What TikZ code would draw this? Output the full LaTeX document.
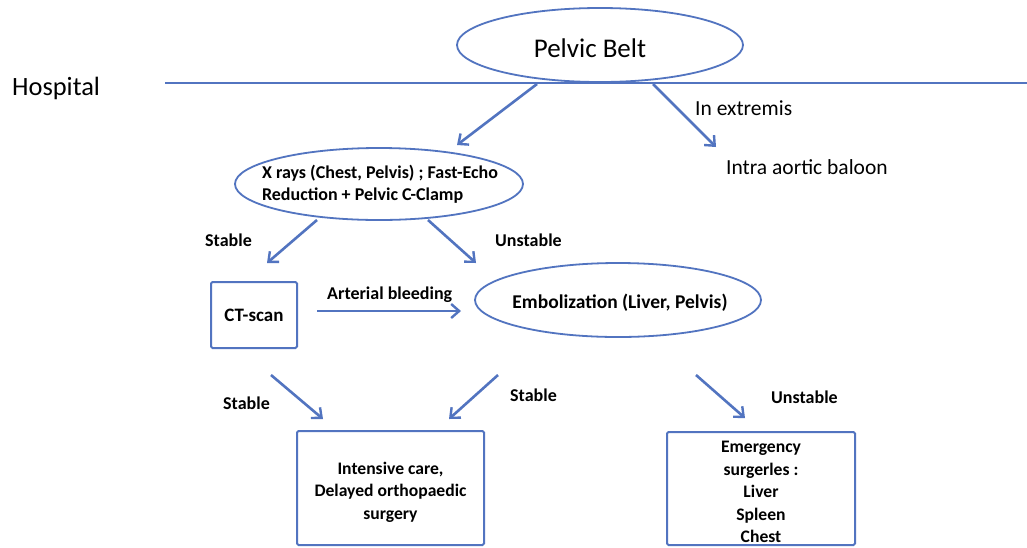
\documentclass[tikz,border=0pt]{standalone}
\usepackage{fontspec}
\setmainfont{Carlito}
\usetikzlibrary{shapes.geometric,arrows.meta}
\definecolor{lineblue}{RGB}{82,116,192}
\tikzset{
  x=1pt,y=-1pt,
  oval/.style={draw=lineblue,line width=1.8pt,ellipse,inner sep=0pt},
  rbox/.style={draw=lineblue,line width=2pt,rounded corners=1.5pt,inner sep=0pt},
  flow/.style={draw=lineblue,line width=2.6pt,-{Straight Barb[length=8pt,width=14pt,line width=2.4pt]}},
  lbl/.style={inner sep=0pt,anchor=west,font=\fontsize{18}{22}\selectfont\bfseries},
  big/.style={inner sep=0pt,font=\fontsize{21.5}{26}\selectfont},
  boxtxt/.style={inner sep=0pt,align=center,font=\fontsize{17.6}{22.5}\selectfont\bfseries}
}
\begin{document}
\begin{tikzpicture}
\useasboundingbox[fill=white] (0,0) rectangle (1027,547);
% horizontal line
\coordinate (hl1) at (165,83);
\coordinate (hl2) at (1027,83);
\draw[lineblue,line width=2.8pt] (hl1) -- (hl2);
\node[inner sep=0pt,anchor=west,font=\fontsize{26.4}{30}\selectfont] (hosp) at (12,88) {Hospital};
% nodes
\node[oval,minimum width=286pt,minimum height=74pt,fill=white] (pb) at (600,45) {};
\node[inner sep=0pt,font=\fontsize{27}{32}\selectfont] (pbt) at (590,48) {Pelvic Belt};
\node[oval,minimum width=288pt,minimum height=72pt] (xr) at (379,184) {};
\node[inner sep=0pt,align=left,font=\fontsize{18}{22}\selectfont\bfseries] (xrt) at (380,184) {X rays (Chest, Pelvis) ; Fast-Echo\\Reduction + Pelvic C-Clamp};
\node[rbox,minimum width=86pt,minimum height=66pt] (ct) at (254,315) {};
\node[inner sep=0pt,font=\fontsize{19}{22}\selectfont\bfseries] (ctt) at (254,315) {CT-scan};
\node[oval,minimum width=286pt,minimum height=74pt] (emb) at (618,300) {};
\node[inner sep=0pt,font=\fontsize{19.5}{22}\selectfont\bfseries] (embt) at (620,303) {Embolization (Liver, Pelvis)};
\node[rbox,minimum width=187pt,minimum height=114pt] (ic) at (390.5,488) {};
\node[boxtxt] (ict) at (390.5,492) {Intensive care,\\Delayed orthopaedic\\surgery};
\node[rbox,minimum width=188pt,minimum height=113pt] (es) at (761,488.5) {};
\node[boxtxt] (est) at (761,492) {Emergency\\surgerles :\\Liver\\Spleen\\Chest};
% labels
\node[big,anchor=west] (ie) at (695,108) {In extremis};
\node[big,anchor=west] (iab) at (726,167) {Intra aortic baloon};
\node[lbl] (s1) at (205,240) {Stable};
\node[lbl] (u1) at (495,240) {Unstable};
\node[lbl] (ab) at (327,295) {Arterial bleeding};
\node[lbl] (s2) at (223,403) {Stable};
\node[lbl] (s3) at (510,395) {Stable};
\node[lbl] (u2) at (771,397) {Unstable};
% arrow end points
\coordinate (a1s) at (537,84);  \coordinate (a1e) at (457,145);
\coordinate (a2s) at (653,84);  \coordinate (a2e) at (716,147);
\coordinate (a3s) at (317,220); \coordinate (a3e) at (267,263);
\coordinate (a4s) at (428,220); \coordinate (a4e) at (476,263);
\coordinate (a5s) at (317,311); \coordinate (a5e) at (461,311);
\coordinate (a6s) at (271,375); \coordinate (a6e) at (323,419);
\coordinate (a7s) at (498,375); \coordinate (a7e) at (449,419);
\coordinate (a8s) at (696,375); \coordinate (a8e) at (745,418);
\draw[flow] (a1s) -- (a1e);
\draw[flow] (a2s) -- (a2e);
\draw[flow] (a3s) -- (a3e);
\draw[flow] (a4s) -- (a4e);
\draw[flow] (a5s) -- (a5e);
\draw[flow] (a6s) -- (a6e);
\draw[flow] (a7s) -- (a7e);
\draw[flow] (a8s) -- (a8e);
\end{tikzpicture}
\end{document}
